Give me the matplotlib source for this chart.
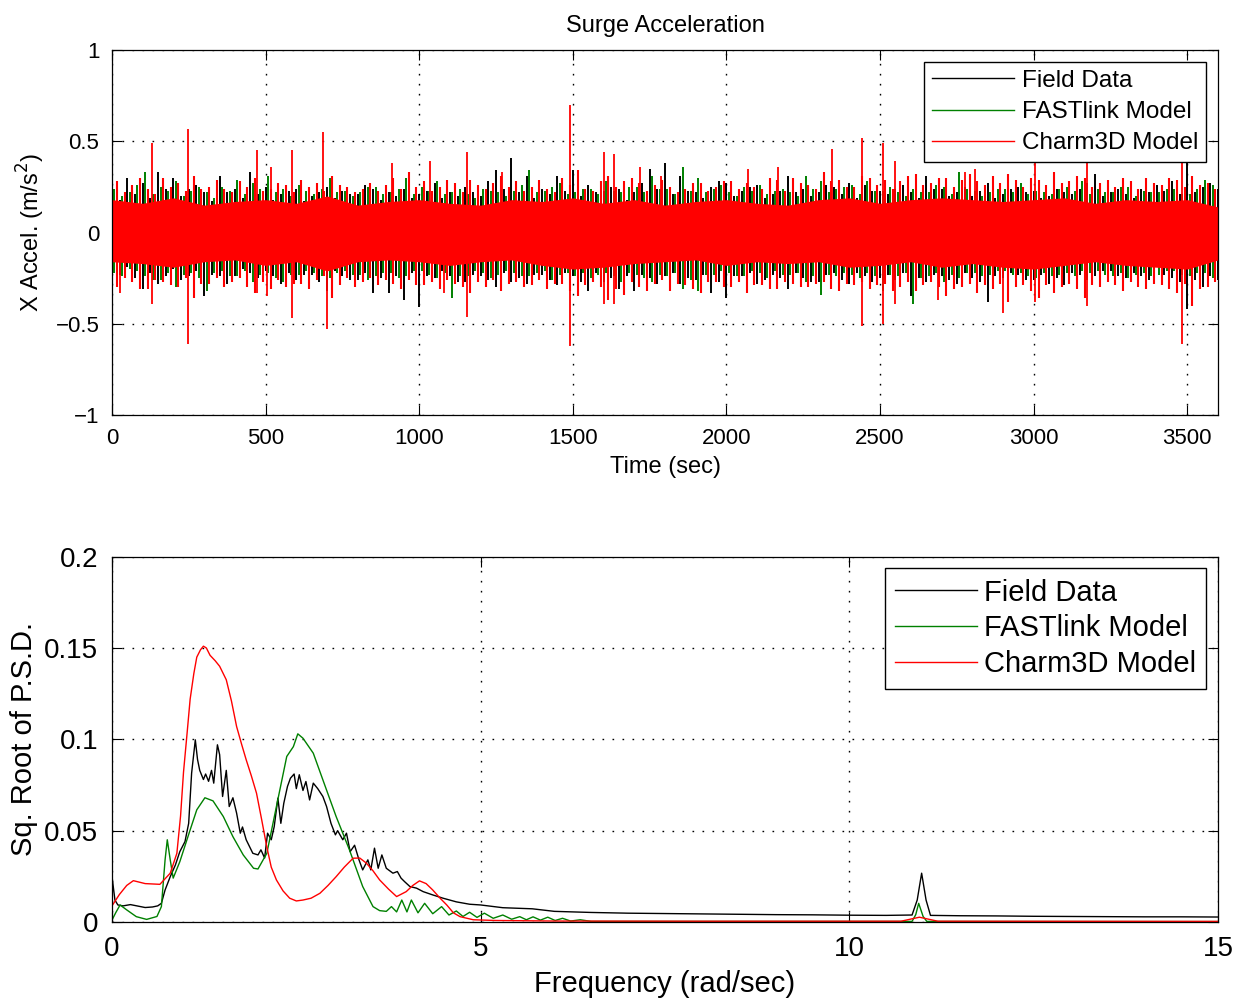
import numpy as np
import matplotlib.pyplot as plt

plt.rcParams['font.family'] = ['Liberation Sans', 'DejaVu Sans']

# ---- top panel: surge acceleration time series, read as extents per 25 s bin ----
t_bin = np.arange(0, 3601, 25)

black_hi = [0.22, 0.18, 0.30, 0.21, 0.27, 0.19, 0.33, 0.24, 0.30, 0.20, 0.24, 0.26, 0.22, 0.17, 0.31, 0.22, 0.24, 0.19, 0.33, 0.21,
            0.25, 0.18, 0.21, 0.23, 0.24, 0.17, 0.20, 0.22, 0.25, 0.19, 0.23, 0.21, 0.21, 0.26, 0.24, 0.18, 0.22, 0.20, 0.24, 0.19,
            0.21, 0.23, 0.27, 0.19, 0.22, 0.20, 0.25, 0.22, 0.20, 0.28, 0.34, 0.24, 0.41, 0.22, 0.31, 0.19, 0.24, 0.21, 0.31, 0.23,
            0.34, 0.20, 0.26, 0.22, 0.23, 0.25, 0.24, 0.18, 0.22, 0.27, 0.35, 0.24, 0.38, 0.21, 0.31, 0.23, 0.22, 0.19, 0.25, 0.28,
            0.27, 0.20, 0.23, 0.25, 0.26, 0.19, 0.21, 0.23, 0.31, 0.22, 0.24, 0.20, 0.22, 0.26, 0.25, 0.21, 0.27, 0.19, 0.26, 0.23,
            0.23, 0.21, 0.24, 0.26, 0.22, 0.19, 0.31, 0.24, 0.24, 0.20, 0.22, 0.25, 0.20, 0.23, 0.27, 0.19, 0.21, 0.24, 0.25, 0.22,
            0.23, 0.19, 0.20, 0.24, 0.22, 0.21, 0.24, 0.27, 0.32, 0.20, 0.22, 0.24, 0.21, 0.19, 0.24, 0.22, 0.26, 0.23, 0.28, 0.21,
            0.38, 0.22, 0.25, 0.27, 0.24]
black_lo = [-0.20, -0.23, -0.19, -0.25, -0.31, -0.22, -0.28, -0.24, -0.20, -0.26, -0.24, -0.21, -0.35, -0.23, -0.24, -0.28, -0.24, -0.20, -0.22, -0.25,
            -0.21, -0.24, -0.28, -0.22, -0.26, -0.23, -0.23, -0.27, -0.32, -0.21, -0.24, -0.26, -0.26, -0.22, -0.33, -0.25, -0.33, -0.24, -0.37, -0.22,
            -0.41, -0.24, -0.25, -0.21, -0.24, -0.27, -0.27, -0.23, -0.24, -0.26, -0.30, -0.22, -0.27, -0.25, -0.28, -0.23, -0.23, -0.26, -0.29, -0.22,
            -0.24, -0.27, -0.32, -0.22, -0.27, -0.25, -0.31, -0.24, -0.32, -0.23, -0.25, -0.28, -0.24, -0.22, -0.28, -0.25, -0.26, -0.23, -0.33, -0.27,
            -0.36, -0.24, -0.24, -0.22, -0.28, -0.26, -0.23, -0.25, -0.31, -0.22, -0.25, -0.27, -0.27, -0.23, -0.22, -0.26, -0.28, -0.22, -0.24, -0.27,
            -0.25, -0.23, -0.26, -0.22, -0.35, -0.25, -0.27, -0.23, -0.24, -0.26, -0.28, -0.22, -0.25, -0.27, -0.38, -0.24, -0.25, -0.22, -0.23, -0.26,
            -0.26, -0.23, -0.28, -0.25, -0.29, -0.22, -0.23, -0.26, -0.24, -0.21, -0.21, -0.24, -0.25, -0.22, -0.24, -0.26, -0.19, -0.23, -0.25, -0.27,
            -0.42, -0.26, -0.30, -0.24, -0.26]
green_hi = [0.24, 0.20, 0.22, 0.26, 0.33, 0.21, 0.25, 0.23, 0.28, 0.20, 0.23, 0.25, 0.22, 0.19, 0.25, 0.23, 0.29, 0.21, 0.27, 0.24,
            0.31, 0.22, 0.24, 0.20, 0.26, 0.23, 0.21, 0.24, 0.30, 0.22, 0.23, 0.20, 0.22, 0.25, 0.25, 0.21, 0.22, 0.24, 0.30, 0.21,
            0.25, 0.23, 0.28, 0.21, 0.22, 0.24, 0.21, 0.19, 0.24, 0.23, 0.22, 0.20, 0.23, 0.26, 0.34, 0.22, 0.23, 0.25, 0.27, 0.21,
            0.22, 0.24, 0.24, 0.21, 0.28, 0.23, 0.22, 0.25, 0.25, 0.22, 0.31, 0.24, 0.24, 0.21, 0.36, 0.23, 0.30, 0.22, 0.24, 0.26,
            0.22, 0.20, 0.25, 0.23, 0.26, 0.21, 0.23, 0.24, 0.22, 0.20, 0.31, 0.24, 0.28, 0.22, 0.24, 0.25, 0.26, 0.21, 0.28, 0.23,
            0.23, 0.25, 0.22, 0.20, 0.24, 0.22, 0.22, 0.26, 0.25, 0.21, 0.33, 0.24, 0.23, 0.20, 0.22, 0.24, 0.24, 0.22, 0.27, 0.21,
            0.23, 0.22, 0.21, 0.24, 0.25, 0.23, 0.28, 0.21, 0.24, 0.22, 0.22, 0.25, 0.25, 0.20, 0.23, 0.22, 0.22, 0.24, 0.24, 0.21,
            0.21, 0.24, 0.29, 0.26, 0.27]
green_lo = [-0.22, -0.24, -0.20, -0.21, -0.24, -0.26, -0.26, -0.22, -0.30, -0.23, -0.22, -0.25, -0.32, -0.22, -0.21, -0.24, -0.24, -0.21, -0.27, -0.23,
            -0.22, -0.25, -0.27, -0.23, -0.23, -0.21, -0.22, -0.24, -0.25, -0.22, -0.21, -0.23, -0.23, -0.26, -0.24, -0.22, -0.22, -0.25, -0.24, -0.21,
            -0.21, -0.23, -0.25, -0.22, -0.36, -0.24, -0.24, -0.21, -0.22, -0.25, -0.23, -0.21, -0.22, -0.24, -0.24, -0.22, -0.21, -0.26, -0.23, -0.22,
            -0.24, -0.22, -0.25, -0.23, -0.22, -0.24, -0.27, -0.22, -0.23, -0.25, -0.27, -0.23, -0.24, -0.22, -0.31, -0.26, -0.32, -0.23, -0.23, -0.21,
            -0.22, -0.24, -0.24, -0.21, -0.22, -0.25, -0.21, -0.23, -0.23, -0.22, -0.27, -0.24, -0.34, -0.23, -0.24, -0.22, -0.23, -0.25, -0.22, -0.24,
            -0.32, -0.23, -0.24, -0.22, -0.39, -0.25, -0.24, -0.22, -0.27, -0.23, -0.25, -0.22, -0.22, -0.24, -0.23, -0.21, -0.21, -0.23, -0.22, -0.24,
            -0.25, -0.22, -0.24, -0.23, -0.22, -0.24, -0.21, -0.22, -0.21, -0.23, -0.24, -0.22, -0.25, -0.23, -0.22, -0.24, -0.23, -0.21, -0.21, -0.23,
            -0.24, -0.22, -0.22, -0.25, -0.24]
red_hi = [0.28, 0.22, 0.26, 0.30, 0.24, 0.21, 0.30, 0.25, 0.27, 0.23, 0.31, 0.24, 0.25, 0.29, 0.24, 0.22, 0.28, 0.25, 0.30, 0.23,
          0.24, 0.27, 0.26, 0.22, 0.29, 0.25, 0.27, 0.23, 0.31, 0.26, 0.25, 0.22, 0.24, 0.27, 0.23, 0.26, 0.30, 0.24, 0.33, 0.25,
          0.28, 0.23, 0.25, 0.29, 0.27, 0.22, 0.29, 0.26, 0.24, 0.27, 0.31, 0.25, 0.28, 0.23, 0.25, 0.29, 0.24, 0.22, 0.30, 0.26,
          0.34, 0.24, 0.23, 0.28, 0.31, 0.25, 0.28, 0.30, 0.27, 0.23, 0.26, 0.29, 0.25, 0.22, 0.24, 0.27, 0.27, 0.23, 0.25, 0.28,
          0.28, 0.24, 0.27, 0.25, 0.24, 0.30, 0.29, 0.23, 0.30, 0.27, 0.26, 0.24, 0.33, 0.28, 0.29, 0.25, 0.25, 0.31, 0.30, 0.26,
          0.29, 0.24, 0.28, 0.31, 0.32, 0.26, 0.27, 0.30, 0.30, 0.25, 0.29, 0.32, 0.28, 0.26, 0.31, 0.27, 0.32, 0.29, 0.25, 0.30,
          0.29, 0.26, 0.33, 0.27, 0.28, 0.31, 0.30, 0.25, 0.27, 0.29, 0.25, 0.30, 0.28, 0.24, 0.30, 0.27, 0.26, 0.30, 0.29, 0.25,
          0.31, 0.26, 0.27, 0.24, 0.20]
red_lo = [-0.30, -0.25, -0.27, -0.31, -0.31, -0.26, -0.27, -0.29, -0.30, -0.25, -0.36, -0.28, -0.28, -0.25, -0.30, -0.27, -0.25, -0.30, -0.33, -0.27,
          -0.31, -0.26, -0.30, -0.28, -0.28, -0.31, -0.26, -0.24, -0.36, -0.29, -0.25, -0.30, -0.27, -0.25, -0.29, -0.26, -0.28, -0.31, -0.26, -0.29,
          -0.29, -0.27, -0.31, -0.26, -0.28, -0.30, -0.33, -0.27, -0.30, -0.26, -0.32, -0.28, -0.27, -0.30, -0.29, -0.26, -0.31, -0.28, -0.28, -0.32,
          -0.35, -0.29, -0.27, -0.30, -0.37, -0.31, -0.34, -0.27, -0.30, -0.32, -0.28, -0.26, -0.32, -0.28, -0.29, -0.31, -0.33, -0.27, -0.27, -0.30,
          -0.30, -0.27, -0.33, -0.29, -0.29, -0.31, -0.31, -0.27, -0.28, -0.30, -0.30, -0.28, -0.27, -0.31, -0.32, -0.28, -0.29, -0.27, -0.31, -0.29,
          -0.28, -0.32, -0.30, -0.27, -0.32, -0.29, -0.27, -0.30, -0.35, -0.31, -0.30, -0.28, -0.33, -0.29, -0.31, -0.28, -0.38, -0.30, -0.29, -0.32,
          -0.36, -0.29, -0.33, -0.30, -0.28, -0.31, -0.36, -0.29, -0.30, -0.27, -0.29, -0.32, -0.27, -0.30, -0.31, -0.28, -0.29, -0.31, -0.33, -0.28,
          -0.40, -0.31, -0.30, -0.27, -0.22]

# solid red core, per 100 s
t_core = np.arange(0, 3601, 100)
red_core_hi = [0.18, 0.16, 0.19, 0.15, 0.17, 0.18, 0.16, 0.20, 0.15, 0.17, 0.18, 0.16, 0.15, 0.18, 0.17, 0.19, 0.16, 0.18, 0.15,
               0.17, 0.18, 0.16, 0.15, 0.18, 0.19, 0.16, 0.18, 0.19, 0.18, 0.17, 0.18, 0.19, 0.16, 0.18, 0.17, 0.18, 0.14]
red_core_lo = [-0.16, -0.17, -0.19, -0.16, -0.15, -0.18, -0.16, -0.21, -0.16, -0.15, -0.16, -0.18, -0.16, -0.15, -0.18, -0.20, -0.19, -0.17, -0.16,
               -0.15, -0.18, -0.16, -0.17, -0.16, -0.19, -0.18, -0.16, -0.19, -0.17, -0.19, -0.20, -0.18, -0.16, -0.18, -0.19, -0.20, -0.15]

# big red spikes
red_spike_t = [131, 246, 471, 517, 585, 688, 910, 1035, 1155, 1268, 1491, 1603, 1634, 1720, 1787, 2070, 2167, 2345, 2440, 2509,
               2549, 2775, 2810, 3005, 3173, 3482,
               26, 131, 246, 471, 505, 585, 699, 1080, 1155, 1491, 1603, 1634, 2440, 2509, 2549, 2689, 2901, 3005, 3173, 3482]
red_spike_v = [0.49, 0.565, 0.45, 0.36, 0.45, 0.55, 0.38, 0.39, 0.44, 0.33, 0.70, 0.44, 0.43, 0.36, 0.31, 0.35, 0.36, 0.46, 0.52, 0.49,
               0.39, 0.33, 0.35, 0.45, 0.45, 0.42,
               -0.33, -0.39, -0.61, -0.33, -0.35, -0.47, -0.53, -0.33, -0.46, -0.62, -0.39, -0.39, -0.51, -0.50, -0.39, -0.37, -0.44, -0.38, -0.40, -0.61]

# ---- bottom panel: sq. root of PSD ----
f_black = [0.0, 0.04, 0.08, 0.15, 0.25, 0.35, 0.45, 0.55, 0.62, 0.67, 0.72, 0.79, 0.86, 0.92, 0.99, 1.04, 1.08, 1.13, 1.16, 1.19,
           1.24, 1.27, 1.31, 1.35, 1.38, 1.43, 1.46, 1.50, 1.55, 1.59, 1.64, 1.69, 1.74, 1.77, 1.82, 1.91, 1.98, 2.02, 2.07, 2.11,
           2.16, 2.20, 2.25, 2.29, 2.33, 2.38, 2.42, 2.47, 2.50, 2.54, 2.59, 2.63, 2.68, 2.73, 2.79, 2.86, 2.91, 2.97, 3.03, 3.06,
           3.13, 3.18, 3.23, 3.29, 3.35, 3.40, 3.47, 3.51, 3.56, 3.61, 3.66, 3.72, 3.81, 3.87, 3.92, 3.97, 4.04, 4.13, 4.22, 4.35,
           4.49, 4.67, 4.85, 5.0, 5.3, 5.7, 6.0, 6.5, 7.0, 7.5, 8.0, 8.5, 9.0, 9.5, 10.0, 10.5, 10.85, 10.92, 10.98, 11.04,
           11.1, 11.5, 12.0, 12.5, 13.0, 13.5, 14.0, 14.5, 15.0]
p_black = [0.025, 0.012, 0.0093, 0.0088, 0.0095, 0.0087, 0.0079, 0.0082, 0.0088, 0.0102, 0.0175, 0.0248, 0.0312, 0.0385, 0.044, 0.054, 0.0815, 0.0997, 0.089, 0.083,
           0.078, 0.081, 0.077, 0.083, 0.076, 0.097, 0.0916, 0.0687, 0.083, 0.0632, 0.068, 0.0596, 0.0486, 0.052, 0.045, 0.0376, 0.0367, 0.0395, 0.035, 0.0486,
           0.045, 0.0522, 0.0678, 0.054, 0.065, 0.0742, 0.0787, 0.081, 0.073, 0.0806, 0.072, 0.0769, 0.0668, 0.076, 0.073, 0.0687, 0.0632, 0.054, 0.0477, 0.050,
           0.045, 0.0486, 0.0385, 0.042, 0.034, 0.0285, 0.034, 0.0285, 0.0404, 0.0294, 0.0367, 0.0294, 0.0267, 0.0276, 0.024, 0.022, 0.0194, 0.0185, 0.0166, 0.0148,
           0.0130, 0.011, 0.0097, 0.0093, 0.0078, 0.0072, 0.0058, 0.0052, 0.0048, 0.0046, 0.0044, 0.0042, 0.0040, 0.0039, 0.0037, 0.0036, 0.0038, 0.012, 0.0267, 0.012,
           0.0036, 0.0034, 0.0033, 0.0031, 0.0030, 0.0029, 0.0028, 0.0028, 0.0027]

f_green = [0.0, 0.05, 0.11, 0.2, 0.33, 0.47, 0.61, 0.67, 0.72, 0.75, 0.79, 0.83, 0.92, 1.06, 1.15, 1.26, 1.37, 1.51, 1.64, 1.78,
           1.92, 1.98, 2.10, 2.23, 2.37, 2.46, 2.52, 2.59, 2.73, 2.86, 3.04, 3.22, 3.40, 3.54, 3.63, 3.72, 3.79, 3.86, 3.93, 4.00,
           4.06, 4.15, 4.24, 4.35, 4.47, 4.57, 4.67, 4.76, 4.85, 4.95, 5.05, 5.17, 5.30, 5.42, 5.53, 5.62, 5.71, 5.81, 5.91, 6.01,
           6.11, 6.22, 6.35, 6.5, 8.0, 10.85, 10.9, 10.94, 11.0, 11.05, 15.0]
p_green = [0.001, 0.005, 0.0093, 0.0066, 0.0029, 0.0014, 0.003, 0.0084, 0.034, 0.045, 0.034, 0.024, 0.033, 0.0504, 0.0614, 0.068, 0.0663, 0.0577, 0.0467, 0.0367,
           0.0294, 0.029, 0.0376, 0.0632, 0.0906, 0.096, 0.103, 0.1006, 0.0924, 0.0778, 0.0577, 0.0395, 0.0194, 0.0084, 0.0062, 0.0058, 0.0084, 0.0055, 0.012, 0.0055,
           0.012, 0.005, 0.0102, 0.0045, 0.0084, 0.0038, 0.006, 0.003, 0.0053, 0.0025, 0.0048, 0.002, 0.0038, 0.0015, 0.0029, 0.0012, 0.0028, 0.001, 0.0026, 0.0008,
           0.002, 0.0005, 0.0012, 0.0003, 0.0003, 0.0003, 0.004, 0.0102, 0.003, 0.0003, 0.0002]

f_red = [0.0, 0.1, 0.2, 0.29, 0.45, 0.65, 0.79, 0.88, 0.93, 0.97, 1.02, 1.06, 1.11, 1.15, 1.20, 1.24, 1.28, 1.33, 1.40, 1.46,
         1.55, 1.62, 1.69, 1.76, 1.82, 1.89, 1.96, 2.03, 2.10, 2.16, 2.23, 2.32, 2.41, 2.50, 2.59, 2.70, 2.82, 2.93, 3.04, 3.15,
         3.27, 3.36, 3.45, 3.54, 3.63, 3.75, 3.86, 3.99, 4.08, 4.17, 4.26, 4.35, 4.45, 4.54, 4.63, 4.72, 4.9, 5.2, 6.0, 8.0,
         10.7, 10.95, 11.2, 15.0]
p_red = [0.0088, 0.015, 0.020, 0.0226, 0.021, 0.0206, 0.0267, 0.0376, 0.058, 0.082, 0.104, 0.122, 0.136, 0.145, 0.149, 0.151, 0.150, 0.146, 0.143, 0.140,
         0.1326, 0.121, 0.107, 0.097, 0.0888, 0.080, 0.0705, 0.056, 0.041, 0.030, 0.023, 0.017, 0.013, 0.0115, 0.012, 0.013, 0.0157, 0.020, 0.0248, 0.030,
         0.0349, 0.035, 0.0322, 0.028, 0.023, 0.018, 0.0139, 0.0166, 0.020, 0.0225, 0.021, 0.0175, 0.013, 0.0093, 0.005, 0.0029, 0.0012, 0.0008, 0.0005, 0.0004,
         0.0004, 0.0026, 0.0004, 0.0003]

labels = ['Field Data', 'FASTlink Model', 'Charm3D Model']
dkgreen = (0, 0.5, 0)


def matlab_axes(ax, fs, pad):
    ax.tick_params(direction='in', length=7, width=0.8, top=True, right=True, labelsize=fs, pad=pad)
    ax.grid(True, color='k', linestyle=(0, (1.2, 6)), linewidth=1.0)
    for s in ax.spines.values():
        s.set_linewidth(0.9)


fig = plt.figure(figsize=(12.47, 9.98), dpi=100)
ax1 = fig.add_axes([0.0898, 0.584, 0.887, 0.366])
ax2 = fig.add_axes([0.0898, 0.0762, 0.887, 0.366])

# top: each 25 s bin drawn as a vertical stroke spanning its extent
ax1.vlines(t_bin, black_lo, black_hi, color='k', lw=1.4, zorder=2)
ax1.vlines(t_bin + 8, green_lo, green_hi, color=dkgreen, lw=1.4, zorder=2.1)
ax1.fill_between(t_core, red_core_lo, red_core_hi, color='r', lw=0, zorder=2.5)
ax1.vlines(t_bin + 16, red_lo, red_hi, color='r', lw=1.5, zorder=2.6)
ax1.vlines(red_spike_t, 0, red_spike_v, color='r', lw=1.3, zorder=2.7)
# legend handles
ax1.plot([], [], color='k', lw=1.0, label=labels[0])
ax1.plot([], [], color=dkgreen, lw=1.0, label=labels[1])
ax1.plot([], [], color='r', lw=1.0, label=labels[2])

ax1.set_xlim(0, 3600)
ax1.set_ylim(-1, 1)
ax1.set_xticks(np.arange(0, 3501, 500))
ax1.set_yticks([-1, -0.5, 0, 0.5, 1])
ax1.set_yticklabels(['\u22121', '\u22120.5', '0', '0.5', '1'])
matlab_axes(ax1, 16, 9)
ax1.set_xlabel('Time (sec)', fontsize=17, labelpad=5)
ax1.set_ylabel('X Accel. (m/s$^2$)', fontsize=17, labelpad=6)
ax1.set_title('Surge Acceleration', fontsize=17, pad=13)
leg = ax1.legend(loc='upper right', fontsize=17.5, handlelength=3.4, handletextpad=0.3, borderaxespad=0.5,
                 fancybox=False, framealpha=1, edgecolor='k', labelspacing=0.38, borderpad=0.32)
leg.set_zorder(5)
leg.get_frame().set_linewidth(1.0)

# bottom
ax2.plot(f_black, p_black, color='k', lw=1.0, label=labels[0])
ax2.plot(f_green, p_green, color=dkgreen, lw=1.0, label=labels[1])
ax2.plot(f_red, p_red, color='r', lw=1.0, label=labels[2])
ax2.set_xlim(0, 15)
ax2.set_ylim(0, 0.2)
ax2.set_xticks([0, 5, 10, 15])
ax2.set_yticks([0, 0.05, 0.1, 0.15, 0.2])
ax2.set_yticklabels(['0', '0.05', '0.1', '0.15', '0.2'])
matlab_axes(ax2, 20, 10)
ax2.set_xlabel('Frequency (rad/sec)', fontsize=21, labelpad=6)
ax2.set_ylabel('Sq. Root of P.S.D.', fontsize=21)
leg = ax2.legend(loc='upper right', fontsize=21, handlelength=2.8, handletextpad=0.25, borderaxespad=0.4,
                 fancybox=False, framealpha=1, edgecolor='k', labelspacing=0.27, borderpad=0.35)
leg.get_frame().set_linewidth(1.0)

fig.savefig('out.png', dpi=100)
